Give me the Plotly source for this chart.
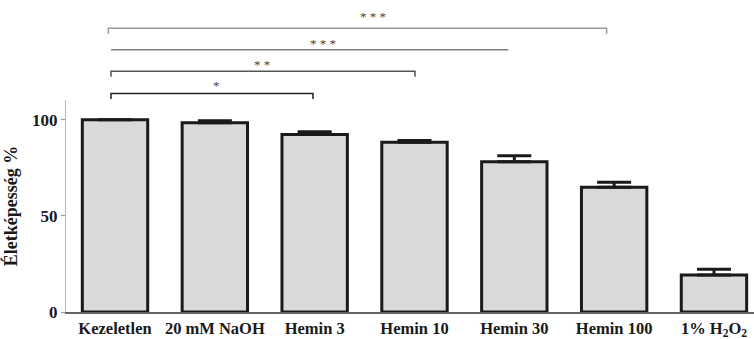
import plotly.graph_objects as go

categories = ["Kezeletlen", "20 mM NaOH", "Hemin 3", "Hemin 10", "Hemin 30", "Hemin 100",
              "1% H<sub>2</sub>O<sub>2</sub>"]
viability = [100, 98.5, 92.4, 88.3, 78.2, 64.9, 19.2]
sem = [None, 1.0, 1.4, 0.9, 3.1, 2.6, 3.1]

# significance brackets: start / end category position, label
bracket_start = [-0.04, -0.04, -0.04, -0.067]
bracket_end = [1.983, 3.005, 3.94, 4.925]
bracket_label = ["*", "* *", "* * *", "* * *"]
bracket_label_x = [1.02, 1.47, 2.08, 2.585]
bracket_y = [1.031, 1.136, 1.237, 1.338]
bracket_label_y = [1.07, 1.166, 1.268, 1.395]
bracket_color = ["#222222", "#555555", "#808080", "#999999"]
bracket_ticks = [True, True, False, True]

FONT = "Liberation Serif"

x = list(range(len(categories)))
fig = go.Figure()
fig.add_trace(go.Bar(
    x=x, y=viability, width=0.655,
    marker=dict(color="#d9d9d9", line=dict(color="#1a1a1a", width=3)),
    error_y=dict(type="data", array=sem, arrayminus=[0] * len(sem), symmetric=False,
                 thickness=3, width=17, color="#1a1a1a"),
    showlegend=False,
))

shapes = []
annotations = []
for s, e, lab, lx, by, ly, c, tk in zip(bracket_start, bracket_end, bracket_label, bracket_label_x,
                                       bracket_y, bracket_label_y, bracket_color, bracket_ticks):
    if tk:
        path = f"M {s},{by - 0.026} L {s},{by} L {e},{by} L {e},{by - 0.026}"
    else:
        path = f"M {s},{by} L {e},{by}"
    shapes.append(dict(type="path", xref="x", yref="paper", path=path,
                       line=dict(color=c, width=1.5)))
    annotations.append(dict(x=lx, y=ly, xref="x", yref="paper", text=lab, showarrow=False,
                            font=dict(family=FONT, size=13, color="#444444", weight="normal"),
                            xanchor="center", yanchor="middle"))

fig.update_layout(
    width=754, height=339,
    margin=dict(l=66, r=0, t=100, b=25),
    paper_bgcolor="white", plot_bgcolor="white",
    shapes=shapes, annotations=annotations,
    font=dict(family=FONT, size=17, color="#1a1a1a", weight="bold"),
)
fig.update_xaxes(
    range=[-0.491, 6.401], tickvals=x, ticktext=categories,
    showline=True, linecolor="#666666", linewidth=2, ticks="", showgrid=False, zeroline=False,
    tickfont=dict(family=FONT, size=16.5, color="#1a1a1a", weight="bold"),
)
fig.update_yaxes(
    range=[0, 110.3], tickvals=[0, 50, 100],
    showline=True, linecolor="#bbbbbb", linewidth=1, ticks="outside", ticklen=4,
    tickcolor="#999999", showgrid=False, zeroline=False,
    tickfont=dict(family=FONT, size=17, color="#1a1a1a", weight="bold"),
    title=dict(text="Életképesség %", standoff=10,
               font=dict(family=FONT, size=18, color="#1a1a1a", weight="bold")),
)

fig.write_html("out.html")
